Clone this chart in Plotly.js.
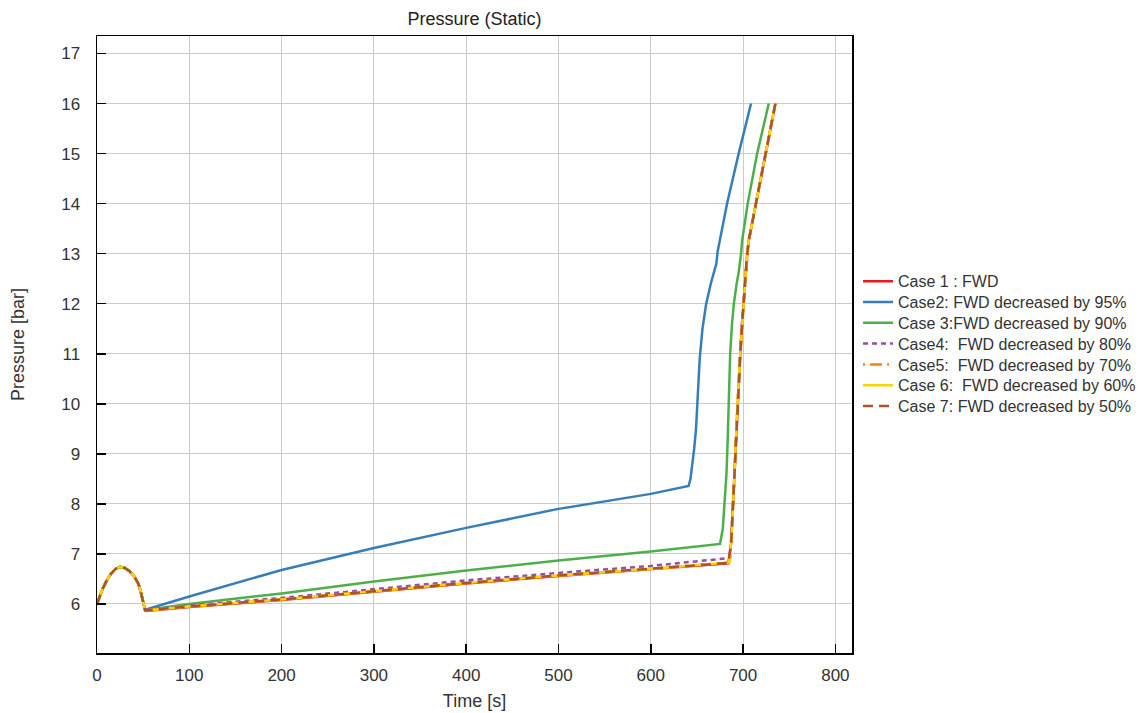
<!DOCTYPE html>
<html>
<head>
<meta charset="utf-8">
<script src="https://cdn.plot.ly/plotly-3.0.1.min.js"></script>
<style>html,body{margin:0;padding:0;background:#fff;}#chart{width:1142px;height:713px;}</style>
</head>
<body>
<div id="chart"></div>
<script>
// Shared start-up hump (time [s], pressure [bar])
const startT = [0, 3, 6, 10, 15, 20, 25, 30, 35, 40, 45, 48, 50, 52];
const startP = [6.0, 6.15, 6.3, 6.45, 6.6, 6.7, 6.74, 6.72, 6.66, 6.56, 6.4, 6.2, 6.0, 5.88];

// Case 1 : FWD
const case1T = [53, 100, 200, 300, 400, 500, 600, 684, 687, 689, 691, 692.5, 694, 697, 699, 702, 704, 706, 715, 725, 735];
const case1P = [5.86, 5.94, 6.08, 6.25, 6.41, 6.56, 6.69, 6.81, 7.2, 8.0, 8.8, 9.3, 10.0, 11.0, 11.6, 12.4, 12.9, 13.25, 14.1, 15.05, 16.0];

// Case2: FWD decreased by 95%
const case2T = [55, 100, 200, 300, 400, 500, 600, 641, 643, 645, 647, 649, 651, 653, 656, 660, 665, 671, 672.5, 682.6, 695.2, 708.6];
const case2P = [5.9, 6.15, 6.68, 7.12, 7.52, 7.9, 8.2, 8.36, 8.5, 8.77, 9.1, 9.5, 10.2, 10.9, 11.5, 12.0, 12.4, 12.8, 13.05, 14.0, 15.0, 16.0];

// Case 3:FWD decreased by 90%
const case3T = [53, 100, 200, 300, 400, 500, 600, 675, 678, 680, 682, 683.3, 684.5, 686, 688, 690, 693, 695, 697.8, 698.9, 705, 715.2, 727.8];
const case3P = [5.88, 6.0, 6.21, 6.45, 6.67, 6.87, 7.05, 7.2, 7.5, 8.0, 8.6, 9.27, 10.0, 11.0, 11.6, 12.0, 12.4, 12.6, 13.0, 13.25, 14.0, 15.0, 16.0];

// Case4: FWD decreased by 80%
const case4T = [53, 100, 200, 300, 400, 500, 600, 686, 688, 690, 691.5, 693, 694.5, 697, 699, 702, 704, 706, 715, 725, 735];
const case4P = [5.88, 5.97, 6.12, 6.3, 6.47, 6.62, 6.76, 6.92, 7.5, 8.3, 9.0, 9.6, 10.3, 11.1, 11.7, 12.4, 12.9, 13.25, 14.1, 15.05, 16.0];

// Case5: FWD decreased by 70%
const case5T = [53, 100, 200, 300, 400, 500, 600, 685, 687.5, 689.5, 691, 692.5, 694, 697, 699, 702, 704, 706, 715, 725, 735];
const case5P = [5.87, 5.95, 6.09, 6.26, 6.42, 6.57, 6.7, 6.83, 7.3, 8.1, 8.8, 9.3, 10.0, 11.0, 11.6, 12.4, 12.9, 13.25, 14.1, 15.05, 16.0];

// Case 6: FWD decreased by 60%
const case6T = [53, 100, 200, 300, 400, 500, 600, 685, 687.5, 689.5, 691, 692.5, 694, 697, 699, 702, 704, 706, 715, 725, 735];
const case6P = [5.87, 5.95, 6.09, 6.26, 6.42, 6.57, 6.7, 6.83, 7.3, 8.1, 8.8, 9.3, 10.0, 11.0, 11.6, 12.4, 12.9, 13.25, 14.1, 15.05, 16.0];

// Case 7: FWD decreased by 50%
const case7T = [53, 100, 200, 300, 400, 500, 600, 684, 687, 689, 691, 692.5, 694, 697, 699, 702, 704, 706, 715, 725, 735];
const case7P = [5.87, 5.95, 6.09, 6.26, 6.42, 6.57, 6.7, 6.82, 7.2, 8.0, 8.8, 9.3, 10.0, 11.0, 11.6, 12.4, 12.9, 13.25, 14.1, 15.05, 16.0];

const names = [
  "Case 1 : FWD",
  "Case2: FWD decreased by 95%",
  "Case 3:FWD decreased by 90%",
  "Case4:  FWD decreased by 80%",
  "Case5:  FWD decreased by 70%",
  "Case 6:  FWD decreased by 60%",
  "Case 7: FWD decreased by 50%"
];
const colors = ["#e41a1c", "#377eb8", "#4daf4a", "#984ea3", "#ff7f00", "#ffd500", "#a65628"];
const dashes = ["solid", "solid", "solid", "5px,4px", "2px,5px,12px,5px", "solid", "10px,6px"];
const seriesT = [case1T, case2T, case3T, case4T, case5T, case6T, case7T];
const seriesP = [case1P, case2P, case3P, case4P, case5P, case6P, case7P];

const traces = names.map((n, i) => ({
  type: "scatter",
  mode: "lines",
  name: n,
  x: startT.concat(seriesT[i]),
  y: startP.concat(seriesP[i]),
  line: {color: colors[i], width: 2.5, dash: dashes[i]},
  hoverinfo: "x+y+name"
}));

const font = "Arial, 'Liberation Sans', sans-serif";
const layout = {
  width: 1142,
  height: 713,
  margin: {l: 97, r: 290, t: 36, b: 60, autoexpand: false},
  paper_bgcolor: "#ffffff",
  plot_bgcolor: "#ffffff",
  font: {family: font, size: 16, color: "#333333"},
  title: {text: "Pressure (Static)", x: 0.5, xref: "paper", y: 0.974, yref: "container", yanchor: "middle", font: {family: font, size: 18, color: "#222222"}},
  xaxis: {
    range: [0, 818],
    tickvals: [0, 100, 200, 300, 400, 500, 600, 700, 800],
    ticks: "inside", ticklen: 9, tickwidth: 1.5, tickcolor: "#000",
    showline: true, linecolor: "#000", linewidth: 1.5, mirror: true,
    showgrid: true, gridcolor: "#cccccc", gridwidth: 1,
    zeroline: false,
    tickfont: {family: font, size: 17, color: "#333"},
    ticklabelstandoff: 6,
    title: {text: "Time [s]", font: {family: font, size: 18, color: "#333"}, standoff: 10}
  },
  yaxis: {
    range: [5.02, 17.35],
    tickvals: [6, 7, 8, 9, 10, 11, 12, 13, 14, 15, 16, 17],
    ticks: "inside", ticklen: 9, tickwidth: 1.5, tickcolor: "#000",
    showline: true, linecolor: "#000", linewidth: 1.5, mirror: true,
    showgrid: true, gridcolor: "#cccccc", gridwidth: 1,
    zeroline: false,
    tickfont: {family: font, size: 17, color: "#333"},
    ticklabelstandoff: 12,
    title: {text: "Pressure [bar]", font: {family: font, size: 18, color: "#333"}, standoff: 32}
  },
  showlegend: true,
  legend: {
    x: 1.008, xanchor: "left", xref: "paper",
    y: 0.630, yanchor: "top",
    bgcolor: "rgba(0,0,0,0)",
    font: {family: font, size: 16, color: "#333"},
    tracegroupgap: 0,
    itemwidth: 30
  }
};

Plotly.newPlot("chart", traces, layout, {displayModeBar: false, staticPlot: true}).then(function (gd) {
  // tighten legend row spacing to match the reference
  const items = gd.querySelectorAll(".legend .traces");
  if (!items.length) return;
  const m = /translate\(\s*([-\d.]+)[ ,]+([-\d.]+)\s*\)/.exec(items[0].getAttribute("transform") || "");
  if (!m) return;
  const x0 = parseFloat(m[1]), y0 = parseFloat(m[2]);
  items.forEach(function (el, i) {
    el.setAttribute("transform", "translate(" + x0 + "," + (y0 + i * 20.8) + ")");
  });
});
</script>
</body>
</html>
